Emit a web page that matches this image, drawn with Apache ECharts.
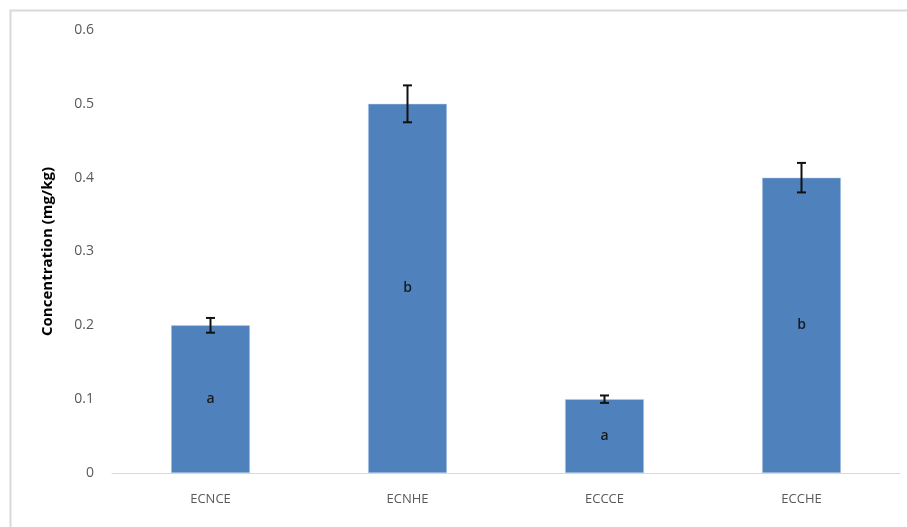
<!DOCTYPE html>
<html>
<head>
<meta charset="utf-8">
<script src="https://cdn.jsdelivr.net/npm/echarts@6/dist/echarts.min.js"></script>
<style>html,body{margin:0;padding:0;background:#fff}#c{width:907px;height:527px}</style>
</head>
<body>
<div id="c"></div>
<script>
const categories = ['ECNCE', 'ECNHE', 'ECCCE', 'ECCHE'];
const values = [0.2, 0.5, 0.1, 0.4];
const errors = [0.01, 0.025, 0.005, 0.02];
const letters = ['a', 'b', 'a', 'b'];
const yTicks = [0, 0.1, 0.2, 0.3, 0.4, 0.5, 0.6];

const chart = echarts.init(document.getElementById('c'), null, {renderer: 'canvas'});
const errData = values.map((v, i) => [i, v - errors[i], v + errors[i]]);

chart.setOption({
  animation: false,
  backgroundColor: '#fff',
  graphic: [{
    type: 'rect', left: 8, top: 8, z: -1,
    shape: {width: 1000, height: 1000},
    style: {fill: 'none', stroke: '#d9d9d9', lineWidth: 2}
  }],
  grid: {left: 112, right: 7, top: 30, bottom: 54},
  xAxis: {
    type: 'category',
    data: categories,
    axisLine: {lineStyle: {color: '#d9d9d9', width: 1}},
    axisTick: {show: false},
    axisLabel: {color: '#595959', fontSize: 13, margin: 20, fontFamily: 'Open Sans'}
  },
  yAxis: {
    type: 'value',
    min: 0, max: 0.6, interval: 0.1,
    name: 'Concentration (mg/kg)',
    nameLocation: 'middle',
    nameGap: 57,
    nameTextStyle: {color: '#000', fontSize: 15, fontWeight: 'bold', fontFamily: 'Open Sans'},
    axisLine: {show: false},
    axisTick: {show: false},
    splitLine: {show: false},
    axisLabel: {
      color: '#595959', fontSize: 14, margin: 18, fontFamily: 'Open Sans',
      formatter: v => { const t = yTicks.find(x => Math.abs(x - v) < 1e-9); return t === undefined ? '' : String(t); }
    }
  },
  series: [{
    type: 'bar',
    data: values,
    barWidth: '40%',
    itemStyle: {color: '#4f81bd', borderColor: '#bcd0ea', borderWidth: 0.5},
    label: {
      show: true, position: 'inside',
      formatter: p => letters[p.dataIndex],
      color: '#1a1a1a', fontSize: 14, fontWeight: 600, fontFamily: 'Open Sans'
    }
  }, {
    type: 'custom',
    data: errData,
    z: 10,
    renderItem: (params, api) => {
      const x = api.value(0);
      const lo = api.coord([x, api.value(1)]);
      const hi = api.coord([x, api.value(2)]);
      const w = 4.5;
      const style = {stroke: '#111', lineWidth: 2};
      return {
        type: 'group',
        children: [
          {type: 'line', shape: {x1: hi[0], y1: hi[1], x2: lo[0], y2: lo[1]}, style},
          {type: 'line', shape: {x1: hi[0] - w, y1: hi[1], x2: hi[0] + w, y2: hi[1]}, style},
          {type: 'line', shape: {x1: lo[0] - w, y1: lo[1], x2: lo[0] + w, y2: lo[1]}, style}
        ]
      };
    }
  }]
});
</script>
</body>
</html>
